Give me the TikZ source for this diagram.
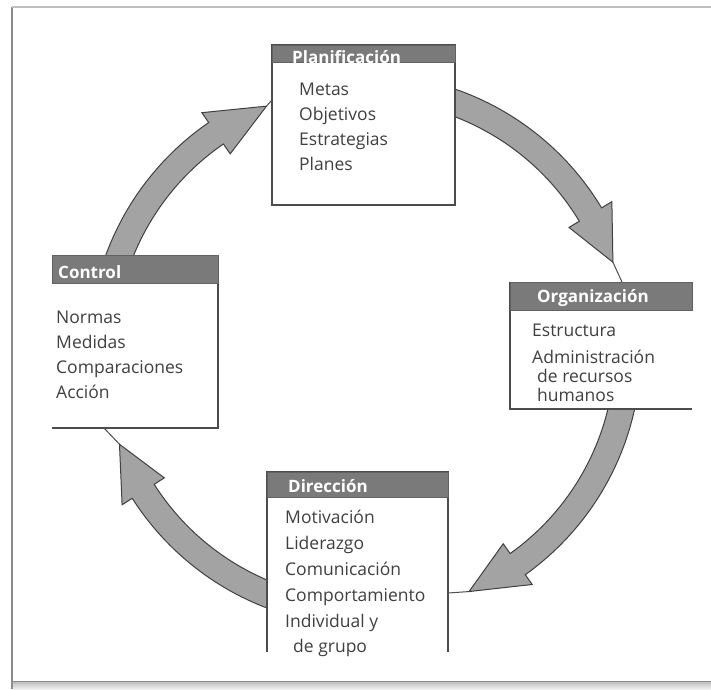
\documentclass[tikz,border=0pt]{standalone}
\usepackage{fontspec}
\setmainfont{Open Sans}
\usetikzlibrary{calc}
\tikzset{
  boxline/.style={draw=black!70, line width=1.4pt},
  boxbg/.style={fill=white, anchor=north west, inner sep=0pt, outer sep=0pt},
  hdr/.style={fill=black!52, draw=black!62, line width=0.8pt, anchor=north west, inner sep=0pt, outer sep=0pt},
  hdrtext/.style={text=white, font=\fontsize{17}{20}\selectfont\bfseries, anchor=base west, inner sep=0pt},
  itemtext/.style={text=black!75, font=\fontsize{17.5}{21}\selectfont, anchor=base west, inner sep=0pt},
  cyc/.style={fill=black!36, draw=black!75, line width=1pt, line join=miter},
  tipline/.style={draw=black!70, line width=1pt},
}
\newcommand\cycarrow[4]{%
  \path[cyc] ($(ctr)+(#2:250)$) arc[start angle=#2, end angle=#3, radius=250]
    -- ($(ctr)+(#3:238)$) -- ($(ctr)+(#4:263)$) -- ($(ctr)+(#3:288)$)
    -- ($(ctr)+(#3:276)$) arc[start angle=#3, end angle=#2, radius=276] -- cycle;
  \coordinate (#1) at ($(ctr)+(#4:263)$);
}
\begin{document}
\begin{tikzpicture}[x=1pt, y=-1pt]
\useasboundingbox (0,0) rectangle (711,689);
\fill[white] (0,0) rectangle (711,689);
% outer frame
\shade[top color=black!28, bottom color=black!6] (12,681) rectangle (711,689);
\draw[black!45, line width=2.5pt] (12,689) -- (12,7);
\draw[black!25, line width=1.5pt] (12,7) -- (711,7);
\draw[black!45, line width=1pt] (12,681) -- (711,681);

\coordinate (ctr) at (365,350);
% cycle arrows
\cycarrow{tipA}{195}{235.5}{248}
\cycarrow{tipB}{285}{329}{340.5}
\cycarrow{tipC}{8}{54.5}{66.7}
\cycarrow{tipD}{108}{147.5}{159}

% Planificacion box
\node (plan) [boxbg, minimum width=183pt, minimum height=160pt] at (272,45) {};
\draw[boxline] (plan.north west) rectangle (plan.south east);
\node (planh) [hdr, minimum width=183pt, minimum height=17pt] at (272,45) {};
\begin{scope}
  \clip (planh.north west) rectangle (planh.south east);
  \node (planht) [hdrtext] at (292,63) {Planificación};
\end{scope}
\node (p1) [itemtext] at (299,95) {Metas};
\node (p2) [itemtext] at (299,120) {Objetivos};
\node (p3) [itemtext] at (299,145) {Estrategias};
\node (p4) [itemtext] at (299,170) {Planes};

% Control box
\node (ctl) [boxbg, minimum width=166pt, minimum height=173pt] at (52,255) {};
\draw[boxline] (ctl.north east) -- (ctl.south east) -- (ctl.south west);
\node (ctlh) [hdr, minimum width=166pt, minimum height=28pt] at (52,255) {};
\node (ctlt) [hdrtext] at (58,278) {Control};
\node (c1) [itemtext] at (56,323) {Normas};
\node (c2) [itemtext] at (56,348) {Medidas};
\node (c3) [itemtext] at (56,373) {Comparaciones};
\node (c4) [itemtext] at (56,398) {Acción};

% Organizacion box
\node (org) [boxbg, minimum width=182pt, minimum height=127pt] at (510,282) {};
\draw[boxline] (org.north west) -- (org.south west) -- (org.south east);
\node (orgh) [hdr, minimum width=182pt, minimum height=28pt] at (510,282) {};
\node (orgt) [hdrtext] at (537,302) {Organización};
\node (o1) [itemtext] at (532,336) {Estructura};
\node (o2) [itemtext] at (532,363) {Administración};
\node (o3) [itemtext] at (537,382) {de recursos};
\node (o4) [itemtext] at (537,401) {humanos};

% Direccion box
\node (dir) [boxbg, minimum width=181pt, minimum height=180pt] at (267,472) {};
\draw[boxline] (dir.south west) -- (dir.north west) -- (dir.north east) -- (dir.south east);
\node (dirh) [hdr, minimum width=181pt, minimum height=25pt] at (267,472) {};
\node (dirt) [hdrtext] at (288,492) {Dirección};
\node (d1) [itemtext] at (285,523) {Motivación};
\node (d2) [itemtext] at (285,549) {Liderazgo};
\node (d3) [itemtext] at (285,575) {Comunicación};
\node (d4) [itemtext] at (285,601) {Comportamiento};
\node (d5) [itemtext] at (285,627) {Individual y};
\node (d6) [itemtext] at (293,652) {de grupo};

% thin lines from arrow tips to boxes
\draw[tipline] (tipA) -- (plan.west |- 0,100);
\draw[tipline] (tipB) -- (orgh.north -| 622,0);
\draw[tipline] (tipC) -- (dir.east |- 0,593);
\draw[tipline] (tipD) -- (ctl.south -| 104,0);
\end{tikzpicture}
\end{document}
